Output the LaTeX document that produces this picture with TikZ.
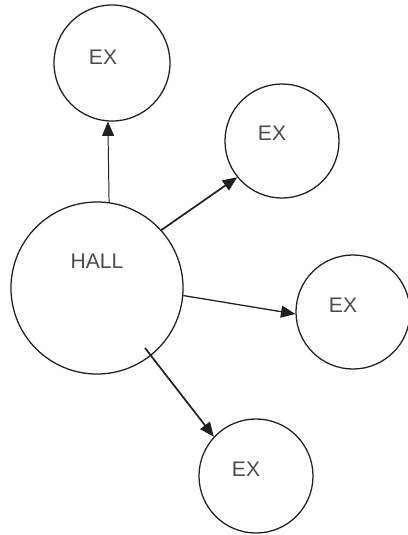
\documentclass[tikz,border=0pt]{standalone}
\usepackage{fontspec}
\setmainfont{Liberation Sans}
\usepackage{tikz}
\usetikzlibrary{arrows.meta,positioning}
\usepackage{xcolor}
\definecolor{inkgray}{gray}{0.12}
\definecolor{textgray}{gray}{0.3}

\begin{document}
\begin{tikzpicture}[x=0.025cm, y=-0.025cm, font=\fontsize{15}{17}\selectfont,
    room/.style={circle, draw=inkgray, line width=0.9pt, minimum size=#1, inner sep=0pt},
    roomlabel/.style={text=textgray},
    flow/.style={draw=inkgray, line width=0.9pt, -{Triangle[length=0.36cm, width=0.3cm]}}]
    \useasboundingbox (0,0) rectangle (408,535);
    % the hall
    \node[room=4.3cm] (hall) at (97,288) {};
    \node[roomlabel] (halltext) at (97,261) {HALL};
    % the exits
    \node[room=2.9cm]  (ex1) at (112,63)  {};
    \node[room=2.85cm] (ex2) at (282,141) {};
    \node[room=2.85cm] (ex3) at (353,312) {};
    \node[room=2.85cm] (ex4) at (256,476) {};
    \node[roomlabel] (ex1text) at (103,57)  {EX};
    \node[roomlabel] (ex2text) at (272,133) {EX};
    \node[roomlabel] (ex3text) at (343,305) {EX};
    \node[roomlabel] (ex4text) at (246,469) {EX};
    % arrows out of the hall
    \coordinate (hallout) at (145,348);
    \draw[flow, line width=0.7pt] (hall.82) -- (ex1.266);
    \draw[flow, line width=1.2pt] (hall.42) -- (ex2.219);
    \draw[flow] (hall.-5) -- (ex3.182);
    \draw[flow, line width=1.2pt] (hallout) -- (ex4.137);
\end{tikzpicture}
\end{document}
